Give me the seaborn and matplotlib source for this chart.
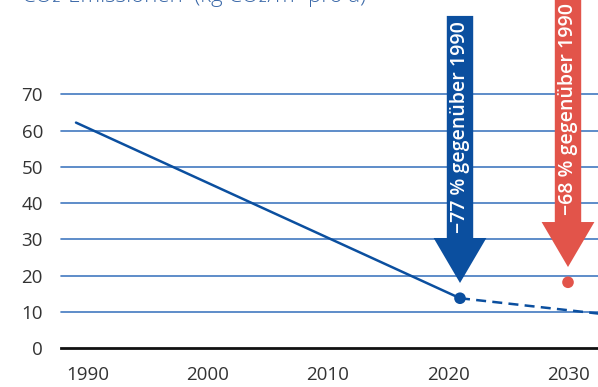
import matplotlib
matplotlib.use("Agg")
import matplotlib.pyplot as plt
from matplotlib.patches import FancyArrow
import seaborn as sns
import pandas as pd

# ---- data ----
hist_years = [1989, 2021]
hist_values = [62.2, 13.8]
trend_years = [2021, 2033]
trend_values = [13.8, 9.4]
target_year = [2030]
target_value = [18.2]
yticks = [0, 10, 20, 30, 40, 50, 60, 70]
xticks = [1990, 2000, 2010, 2020, 2030]
arrow_labels = ["\u221277 % gegen\u00fcber 1990", "\u221268 % gegen\u00fcber 1990"]
arrow_x = [2021, 2030]
arrow_tip = [18.0, 22.4]
arrow_top = [91.6, 97.0]
title_text = "CO\u2082-Emissionen  (kg CO\u2082/m\u00b2 pro a)"

BLUE = "#0b4f9f"
RED = "#e2544a"
GRID = "#4279c0"

sns.set_theme(style="white")
plt.rcParams["font.family"] = ["Open Sans", "DejaVu Sans"]

fig = plt.figure(figsize=(5.98, 3.87), dpi=100)
ax = fig.add_axes([61 / 598, (387 - 348.3) / 387, 1 - 61 / 598, (348.3 - 94.3) / 387])

df_hist = pd.DataFrame({"year": hist_years, "value": hist_values})
df_trend = pd.DataFrame({"year": trend_years, "value": trend_values})
df_target = pd.DataFrame({"year": target_year, "value": target_value})

for y in yticks[1:]:
    ax.axhline(y, color=GRID, lw=1.2, zorder=1, clip_on=False)

sns.lineplot(data=df_hist, x="year", y="value", ax=ax, color=BLUE, lw=1.8, zorder=3)
sns.lineplot(data=df_trend, x="year", y="value", ax=ax, color=BLUE, lw=1.8,
             linestyle=(0, (4, 2.5)), zorder=3)
sns.scatterplot(data=df_hist.iloc[[1]], x="year", y="value", ax=ax, color=BLUE,
                s=70, edgecolor="none", zorder=4)
sns.scatterplot(data=df_target, x="year", y="value", ax=ax, color=RED,
                s=70, edgecolor="none", zorder=4)

for xa, tip, top, col, lab in zip(arrow_x, arrow_tip, arrow_top, [BLUE, RED], arrow_labels):
    arr = FancyArrow(xa, top, 0, tip - top, width=2.2, head_width=4.4, head_length=12.4,
                     length_includes_head=True, color=col, lw=0, clip_on=False, zorder=5)
    ax.add_patch(arr)
    mid = tip + 12.4 + (top - tip - 12.4) / 2
    ax.text(xa, mid, lab, rotation=90, ha="center", va="center", color="white",
            fontsize=14, fontweight="semibold", zorder=6, clip_on=False)

ax.set_xlim(1987.75, 2032.5)
ax.set_ylim(0, 70)
ax.set_xticks(xticks)
ax.set_yticks(yticks)
ax.set_xlabel("")
ax.set_ylabel("")
ax.tick_params(axis="both", length=0, labelsize=13.5, labelcolor="#333333")
ax.tick_params(axis="y", pad=13)
ax.tick_params(axis="x", pad=13)
for s in ["top", "right", "left"]:
    ax.spines[s].set_visible(False)
ax.spines["bottom"].set_color("#111111")
ax.spines["bottom"].set_linewidth(2)
ax.set_facecolor("none")
if ax.get_legend():
    ax.get_legend().remove()

fig.text(22 / 598, 1 - 2 / 387, title_text, color="#3a68a8", fontsize=16,
         fontweight="light", ha="left", va="baseline")

fig.savefig("out.png", dpi=100)
